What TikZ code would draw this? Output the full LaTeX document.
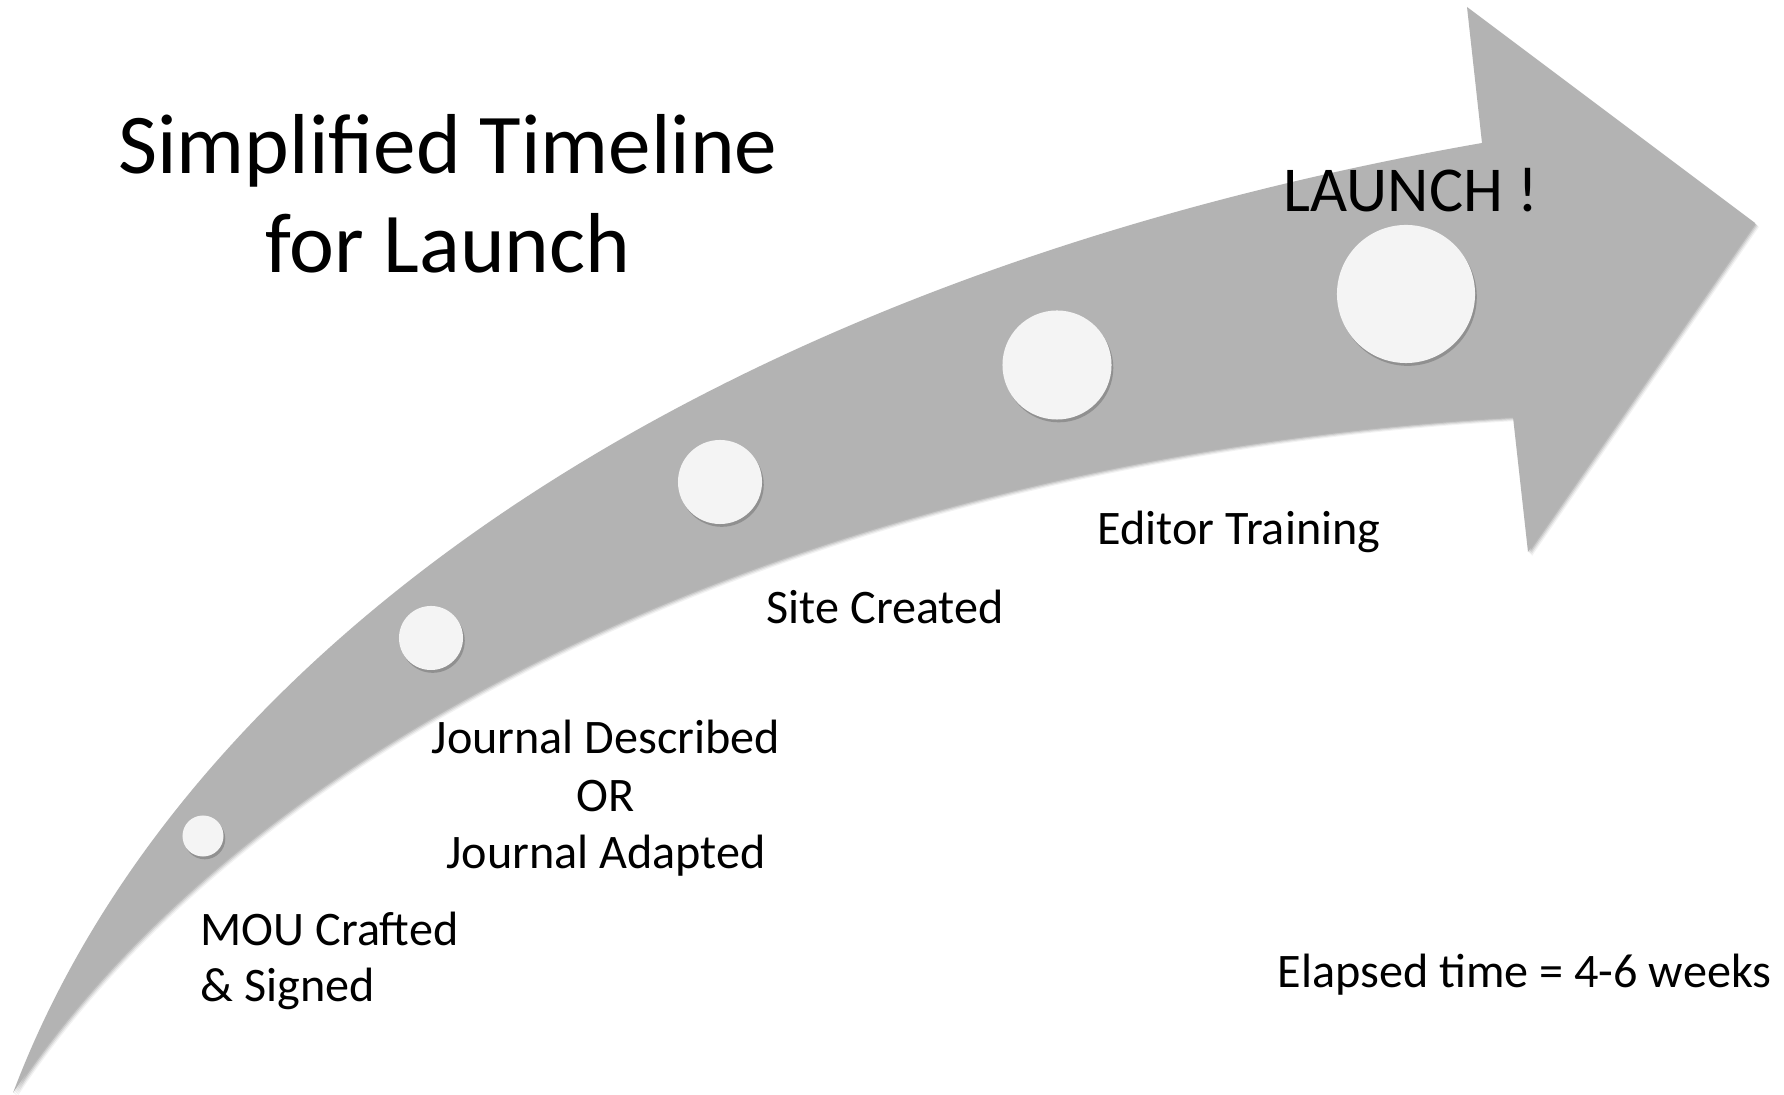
\documentclass[tikz,border=0pt]{standalone}
\usepackage{fontspec}
\setmainfont{Carlito}
\usepackage{tikz}
\usetikzlibrary{shadows}

\definecolor{arrowgray}{HTML}{B3B3B3}
\definecolor{dotwhite}{HTML}{F4F4F4}

% outline of the bent arrow, in pixel units
\newcommand{\arrowbody}{(13,1093) .. controls (180,650) and (700,280) .. (1482,143)
    -- (1467,7) -- (1755,223) -- (1528,552) -- (1513,417)
    .. controls (900,450) and (280,690) .. (13,1093) -- cycle}

\tikzset{
    stop/.style={circle, fill=dotwhite, inner sep=0,
        drop shadow={shadow xshift=0.5pt, shadow yshift=-0.8pt, opacity=0.45, fill=black!60}},
    label/.style={font=\fontsize{13.7}{16.1}\selectfont, inner sep=0},
}

\begin{document}
\begin{tikzpicture}[x=0.01cm, y=-0.01cm]
    \useasboundingbox[fill=white] (0,0) rectangle (1784,1095);
    % soft shadow under the arrow
    \foreach \s/\o in {1/0.10,2/0.09,3/0.07,4/0.05} {%
        \fill[black, opacity=\o, shift={(\s,\s)}] \arrowbody;
    }
    \fill[arrowgray] \arrowbody;

    % milestones along the arrow
    \foreach \x/\y/\d/\n in {203/836/0.41/mou, 431/638/0.64/journal, 720/482/0.84/site, 1057/365/1.09/editor, 1406/294/1.38/launch} {%
        \node[stop, minimum size=\d cm] (\n) at (\x,\y) {};
    }

    % base anchor of a multi-line node sits on its last line
    \node[font=\fontsize{24.2}{28.4}\selectfont, align=center, anchor=base, inner sep=0] (title) at (448,273) {Simplified Timeline\\for Launch};
    \node[font=\fontsize{18.2}{22}\selectfont, anchor=base west, inner sep=0] (launchtext) at (1283,212) {LAUNCH !};

    \node[label, align=left, anchor=base west] (moutext) at (200,1002) {MOU Crafted\\\& Signed};
    \node[label, align=center, anchor=base, font=\fontsize{13.7}{16.4}\selectfont] (journaltext) at (606,869) {Journal Described\\OR\\Journal Adapted};
    \node[label, anchor=base west] (sitetext) at (766,624) {Site Created};
    \node[label, anchor=base west] (editortext) at (1097,545) {Editor Training};
    \node[label, anchor=base west] (elapsed) at (1277,988) {Elapsed time = 4-6 weeks};
\end{tikzpicture}
\end{document}
